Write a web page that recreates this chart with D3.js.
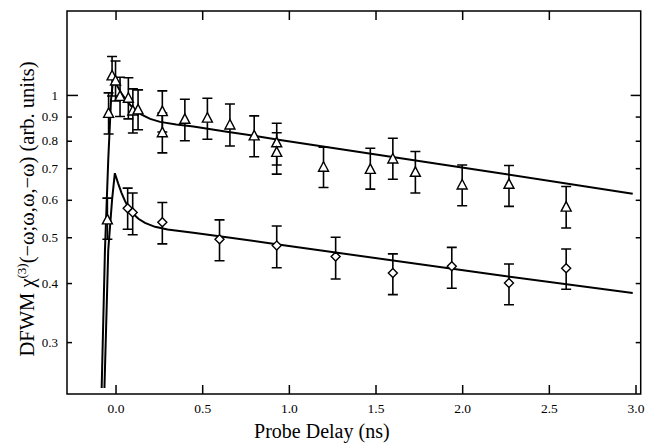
<!DOCTYPE html>
<html>
<head>
<meta charset="utf-8">
<script src="https://cdn.jsdelivr.net/npm/d3@7"></script>
<style>
  body { margin: 0; background: #fff; }
  svg { display: block; }
</style>
</head>
<body>
<svg id="chart" width="647" height="444"></svg>
<script>
// triangle series (upper): delay, value, low and high of error bar
const triX  = [-0.047, -0.04, -0.02, 0.0, 0.026, 0.074, 0.10, 0.13, 0.27, 0.27, 0.40, 0.53, 0.66, 0.80, 0.93, 0.93, 1.20, 1.47, 1.60, 1.73, 2.00, 2.27, 2.60];
const triY  = [0.544, 0.914, 1.097, 1.070, 0.993, 0.984, 0.925, 0.930, 0.922, 0.832, 0.888, 0.893, 0.864, 0.819, 0.792, 0.756, 0.703, 0.696, 0.732, 0.686, 0.645, 0.647, 0.579];
const triLo = [0.495, 0.827, 0.995, 0.971, 0.900, 0.890, 0.831, 0.844, 0.835, 0.754, 0.800, 0.806, 0.780, 0.740, 0.711, 0.680, 0.637, 0.632, 0.663, 0.620, 0.583, 0.581, 0.523];
const triHi = [0.605, 1.010, 1.206, 1.180, 1.090, 1.087, 1.030, 1.025, 1.020, 0.916, 0.979, 0.984, 0.957, 0.903, 0.871, 0.832, 0.775, 0.771, 0.810, 0.759, 0.711, 0.709, 0.640];

// diamond series (lower)
const diaX  = [0.07, 0.099, 0.27, 0.60, 0.93, 1.27, 1.60, 1.94, 2.27, 2.60];
const diaY  = [0.576, 0.564, 0.538, 0.495, 0.480, 0.455, 0.420, 0.434, 0.400, 0.430];
const diaLo = [0.520, 0.506, 0.484, 0.446, 0.431, 0.408, 0.378, 0.390, 0.360, 0.388];
const diaHi = [0.635, 0.620, 0.592, 0.544, 0.528, 0.500, 0.461, 0.476, 0.439, 0.472];

// fitted curves
const fitTriX = [-0.080, -0.061, -0.042, -0.026, -0.012, 0.010, 0.036, 0.065, 0.093, 0.120, 0.150, 0.200, 0.257, 0.350, 0.449, 0.642, 0.834, 0.949, 2.161, 2.984];
const fitTriY = [0.240, 0.470, 0.729, 0.976, 1.090, 1.045, 1.005, 0.970, 0.945, 0.925, 0.908, 0.890, 0.877, 0.866, 0.857, 0.836, 0.816, 0.803, 0.688, 0.618];
const fitDiaX = [-0.064, -0.042, -0.020, -0.004, 0.015, 0.035, 0.055, 0.074, 0.100, 0.132, 0.170, 0.228, 0.300, 0.449, 0.642, 0.949, 2.161, 2.984];
const fitDiaY = [0.240, 0.470, 0.600, 0.683, 0.650, 0.620, 0.596, 0.578, 0.561, 0.547, 0.536, 0.526, 0.519, 0.511, 0.500, 0.482, 0.418, 0.381];

const xTicks = [0, 0.5, 1.0, 1.5, 2.0, 2.5, 3.0];
const yTicks = [0.3, 0.4, 0.5, 0.6, 0.7, 0.8, 0.9, 1];

const serif = "'Liberation Serif', 'Times New Roman', Times, serif";
const svg = d3.select("#chart").attr("font-family", serif);
const pLeft = 67, pRight = 640.7, pTop = 11, pBottom = 394;

const x = d3.scaleLinear().domain([-0.28, 3.03]).range([pLeft, pRight]);
const y = d3.scaleLog().domain([0.233, 1.505]).range([pBottom, pTop]);

// axes, ticks pointing inward
const gx = svg.append("g")
    .attr("transform", `translate(0,${pBottom})`)
    .call(d3.axisBottom(x).tickValues(xTicks).tickSize(-9).tickPadding(9)
        .tickFormat(d3.format(".1f")));
svg.append("g")
    .attr("transform", `translate(0,${pTop})`)
    .call(d3.axisTop(x).tickValues(xTicks.slice(0, 6)).tickSize(-9).tickFormat(""));
const gy = svg.append("g")
    .attr("transform", `translate(${pLeft},0)`)
    .call(d3.axisLeft(y).tickValues(yTicks).tickSize(-5).tickPadding(9)
        .tickFormat(d => d === 1 ? "1" : d3.format(".1f")(d)));
const gr = svg.append("g")
    .attr("transform", `translate(${pRight},0)`)
    .call(d3.axisRight(y).tickValues(yTicks).tickSize(-5).tickFormat(""));

gy.selectAll(".tick").filter(d => d === 1).select("line").attr("x2", 11);
gr.selectAll(".tick").filter(d => d === 1).select("line").attr("x2", -10);

svg.selectAll("g").attr("font-family", serif);
svg.selectAll(".domain").remove();
svg.selectAll(".tick line").attr("stroke", "#000").attr("stroke-width", 1.5);
gx.selectAll("text").attr("font-size", 13.5).attr("fill", "#000");
gy.selectAll("text").attr("font-size", 13).attr("fill", "#000");

svg.append("rect")
    .attr("x", pLeft).attr("y", pTop)
    .attr("width", pRight - pLeft).attr("height", pBottom - pTop)
    .attr("fill", "none").attr("stroke", "#000").attr("stroke-width", 1.5);

// fitted curves
const line = d3.line().x(d => x(d[0])).y(d => y(d[1]));
svg.append("path")
    .datum(d3.zip(fitTriX, fitTriY))
    .attr("d", line).attr("fill", "none").attr("stroke", "#000").attr("stroke-width", 2);
svg.append("path")
    .datum(d3.zip(fitDiaX, fitDiaY))
    .attr("d", line).attr("fill", "none").attr("stroke", "#000").attr("stroke-width", 2);

// error bars
function errorBars(xs, ys, lo, hi) {
  const g = svg.append("g").attr("stroke", "#000").attr("stroke-width", 1.6).attr("fill", "none");
  const data = d3.zip(xs, ys, lo, hi);
  g.selectAll("path").data(data).join("path")
    .attr("d", d => {
      const cx = x(d[0]), y1 = y(d[2]), y2 = y(d[3]);
      return `M${cx - 5},${y1}H${cx + 5}M${cx},${y1}V${y2}M${cx - 5},${y2}H${cx + 5}`;
    });
}
errorBars(triX, triY, triLo, triHi);
errorBars(diaX, diaY, diaLo, diaHi);

// markers
svg.append("g").selectAll("path").data(d3.zip(triX, triY)).join("path")
    .attr("d", d => {
      const cx = x(d[0]), cy = y(d[1]);
      return `M${cx},${cy - 5.5}L${cx + 5},${cy + 4}L${cx - 5},${cy + 4}Z`;
    })
    .attr("fill", "#fff").attr("stroke", "#000").attr("stroke-width", 1.4);
svg.append("g").selectAll("path").data(d3.zip(diaX, diaY)).join("path")
    .attr("d", d => {
      const cx = x(d[0]), cy = y(d[1]);
      return `M${cx},${cy - 4.5}L${cx + 4.5},${cy}L${cx},${cy + 4.5}L${cx - 4.5},${cy}Z`;
    })
    .attr("fill", "#fff").attr("stroke", "#000").attr("stroke-width", 1.4);

// axis titles
svg.append("text")
    .attr("x", (pLeft + pRight) / 2 - 32).attr("y", 438)
    .attr("text-anchor", "middle").attr("font-size", 20)
    .text("Probe Delay (ns)");

const yt = svg.append("text")
    .attr("transform", "translate(34,209) rotate(-90)")
    .attr("text-anchor", "middle").attr("font-size", 20.5);
yt.append("tspan").text("DFWM \u03c7");
yt.append("tspan").attr("font-size", 13).attr("dy", -8).text("(3)");
yt.append("tspan").attr("dy", 8).text("(\u2212\u03c9;\u03c9,\u03c9,\u2212\u03c9) (arb. units)");
</script>
</body>
</html>
